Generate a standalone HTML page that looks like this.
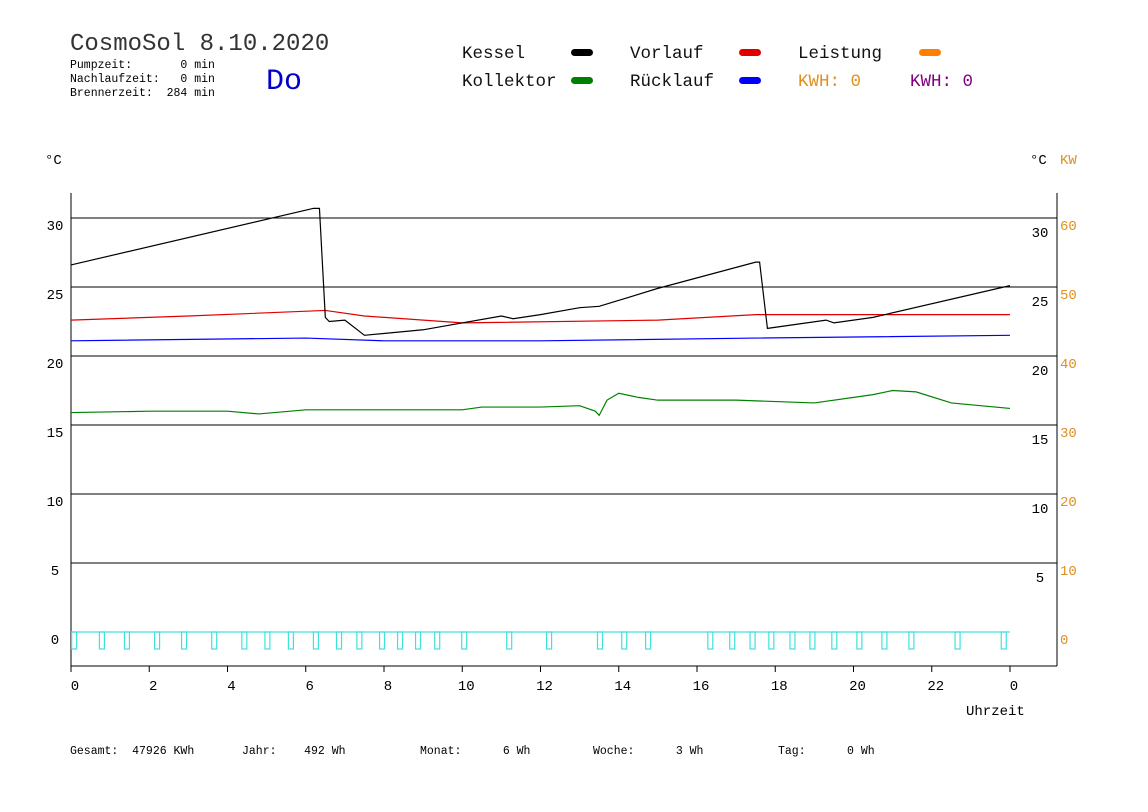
<!DOCTYPE html>
<html><head><meta charset="utf-8"><style>
body{margin:0;background:#fff;}
svg{display:block;font-family:"Liberation Mono",monospace;}
</style></head><body>
<svg id="c" width="1148" height="812" viewBox="0 0 1148 812">
<g>
<text x="70" y="50" font-size="24" fill="#333">CosmoSol 8.10.2020</text>
<text x="70" y="68" font-size="11.5" fill="#000" xml:space="preserve">Pumpzeit:       0 min</text>
<text x="70" y="82" font-size="11.5" fill="#000" xml:space="preserve">Nachlaufzeit:   0 min</text>
<text x="70" y="96" font-size="11.5" fill="#000" xml:space="preserve">Brennerzeit:  284 min</text>
<text x="266" y="89" font-size="30" fill="#0000cc">Do</text>
</g>
<g font-size="17.5" fill="#111">
<text x="462" y="58">Kessel</text>
<rect x="571" y="49" width="22" height="7" rx="3.5" fill="#000"/>
<text x="630" y="58">Vorlauf</text>
<rect x="739" y="49" width="22" height="7" rx="3.5" fill="#e00000"/>
<text x="798" y="58">Leistung</text>
<rect x="919" y="49" width="22" height="7" rx="3.5" fill="#ff8000"/>
<text x="462" y="86">Kollektor</text>
<rect x="571" y="77" width="22" height="7" rx="3.5" fill="#008000"/>
<text x="630" y="86">Rücklauf</text>
<rect x="739" y="77" width="22" height="7" rx="3.5" fill="#0000ff"/>
<text x="798" y="86" fill="#e09020">KWH: 0</text>
<text x="910" y="86" fill="#800080">KWH: 0</text>
</g>
<text x="45" y="164" font-size="14" fill="#000">°C</text>
<text x="1030" y="164" font-size="14" fill="#000">°C</text>
<text x="1060" y="164" font-size="14" fill="#e09020">KW</text>
<g id="grid"></g>
<g id="marks"></g>
<g font-size="11.5" fill="#000">
<text x="70" y="754" xml:space="preserve">Gesamt:  47926 KWh</text>
<text x="242" y="754" xml:space="preserve">Jahr:    492 Wh</text>
<text x="420" y="754" xml:space="preserve">Monat:      6 Wh</text>
<text x="593" y="754" xml:space="preserve">Woche:      3 Wh</text>
<text x="778" y="754" xml:space="preserve">Tag:      0 Wh</text>
</g>
</svg>
<script>
const yTicks=[0,5,10,15,20,25,30];
const kwTicks=[0,10,20,30,40,50,60];
const xTicks=[0,2,4,6,8,10,12,14,16,18,20,22,24];
const kesselT=[0,6.2,6.35,6.5,6.6,7.0,7.5,9,11,11.3,12,13,13.5,15,17.5,17.6,17.8,19.3,19.5,20.5,24];
const kesselV=[26.6,30.7,30.7,22.8,22.5,22.6,21.5,21.9,22.9,22.7,23.0,23.5,23.6,24.9,26.8,26.8,22.0,22.6,22.4,22.8,25.1];
const vorlaufT=[0,3,6.5,7.5,10,15,17.5,19,24];
const vorlaufV=[22.6,22.9,23.3,22.9,22.4,22.6,23.0,23.0,23.0];
const rueckT=[0,6,8,12,17.5,24];
const rueckV=[21.1,21.3,21.1,21.1,21.3,21.5];
const kollT=[0,2,4,4.8,6,8,10,10.5,12,13,13.4,13.5,13.7,14,14.5,15,17,19,20.5,21,21.6,22.5,24];
const kollV=[15.9,16.0,16.0,15.8,16.1,16.1,16.1,16.3,16.3,16.4,16.0,15.7,16.8,17.3,17.0,16.8,16.8,16.6,17.2,17.5,17.4,16.6,16.2];
const pumpT=[0.08,0.79,1.43,2.2,2.89,3.66,4.43,5.02,5.62,6.26,6.85,7.37,7.95,8.41,8.87,9.36,10.05,11.2,12.22,13.52,14.14,14.75,16.34,16.9,17.42,17.9,18.44,18.95,19.51,20.15,20.79,21.48,22.66,23.84];
const pumpV=pumpT.map(()=>1);
const X0=71,XS=(1010-71)/24,Y0=632,YS=13.8;
const x=h=>X0+h*XS, y=v=>Y0-v*YS;
const NS="http://www.w3.org/2000/svg";
const grid=document.getElementById('grid'),marks=document.getElementById('marks');
function mk(t,a,p){const e=document.createElementNS(NS,t);for(const k in a)e.setAttribute(k,a[k]);p.appendChild(e);return e;}
yTicks.forEach((v,i)=>{
 if(v>0){const l=mk('line',{x1:71,x2:1057,y1:y(v),y2:y(v),stroke:'#000','stroke-width':1},grid);
 
 }
 const t=mk('text',{x:55,y:y(v)+12,'font-size':14,'text-anchor':'middle',fill:'#000'},grid);t.textContent=v;
 
 
 if(v>0){const r=mk('text',{x:1040,y:y(v)+19,'font-size':14,'text-anchor':'middle',fill:'#000'},grid);r.textContent=v;
 
 }
 const k=mk('text',{x:1060,y:y(v)+12,'font-size':14,fill:'#e09020'},grid);k.textContent=kwTicks[i];
 
 
});
mk('line',{x1:71,x2:71,y1:193,y2:666,stroke:'#000'},grid);
mk('line',{x1:1057,x2:1057,y1:193,y2:666,stroke:'#000'},grid);
mk('line',{x1:71,x2:1057,y1:666,y2:666,stroke:'#000'},grid);
xTicks.forEach(h=>{
 mk('line',{x1:x(h),x2:x(h),y1:666,y2:672,stroke:'#000'},grid);
 const t=mk('text',{x:x(h)+4,y:690,'font-size':14,'text-anchor':'middle',fill:'#000'},grid);t.textContent=h%24;
 
 
});
const ut=mk('text',{x:966,y:715,'font-size':14,fill:'#000'},grid);ut.textContent='Uhrzeit';


function line(T,V,c,n){const p=mk('polyline',{points:T.map((t,i)=>x(t)+','+y(V[i])).join(' '),fill:'none',stroke:c,'stroke-width':1.2},marks);
 
 }
const bl=mk('line',{x1:x(0),x2:x(24),y1:y(0),y2:y(0),stroke:'#40e0e0','stroke-width':1.2},marks);


pumpT.forEach((t,i)=>{const r=mk('rect',{x:x(t)-2.5,y:y(0),width:5,height:pumpV[i]*17,fill:'none',stroke:'#40e0e0','stroke-width':1.2},marks);
 
 });
line(rueckT,rueckV,'#0000ff','ruecklauf-line');
line(vorlaufT,vorlaufV,'#e00000','vorlauf-line');
line(kollT,kollV,'#008000','kollektor-line');
line(kesselT,kesselV,'#000','kessel-line');
</script>
</body></html>
